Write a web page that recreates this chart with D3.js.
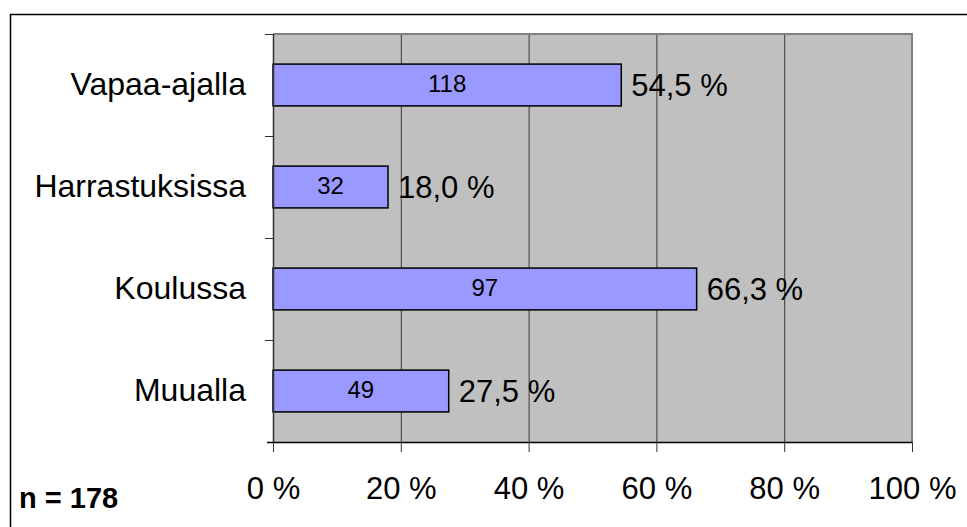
<!DOCTYPE html>
<html>
<head>
    <meta charset="utf-8">
    <title>Missä - n = 178</title>
    <script src="https://d3js.org/d3.v7.min.js"></script>
    <style>
        body { margin: 0; background: #fff; }
        text { font-family: "Liberation Sans", Arial, sans-serif; fill: #000; }
    </style>
</head>
<body>
    <div id="chart"></div>
    <script>
        // arvot luettu kuvasta
        const categories = ["Vapaa-ajalla", "Harrastuksissa", "Koulussa", "Muualla"];
        const percents = [54.5, 18.0, 66.3, 27.5];
        const counts = [118, 32, 97, 49];
        const xTicks = [0, 20, 40, 60, 80, 100];
        const nTotal = 178;

        const width = 967;
        const height = 527;
        const plot = { left: 273, right: 912, top: 34, bottom: 442 };

        const svg = d3.select("#chart")
            .append("svg")
            .attr("width", width)
            .attr("height", height);

        // ulkokehys (oikea ja alareuna kuvan ulkopuolella)
        svg.append("rect")
            .attr("x", 10.5).attr("y", 14.5)
            .attr("width", 1000).attr("height", 600)
            .attr("fill", "#fff")
            .attr("stroke", "#000")
            .attr("stroke-width", 1.5);

        const x = d3.scaleLinear()
            .domain([0, 100])
            .range([plot.left, plot.right]);

        const y = d3.scaleBand()
            .domain(categories)
            .range([plot.top, plot.bottom])
            .paddingInner(0.59)
            .paddingOuter(0.295);

        const fmt = v => v.toFixed(1).replace(".", ",") + " %";

        // piirtoalue
        svg.append("rect")
            .attr("x", plot.left).attr("y", plot.top)
            .attr("width", plot.right - plot.left)
            .attr("height", plot.bottom - plot.top)
            .attr("fill", "#c0c0c0");

        // ruudukko
        svg.append("g")
            .selectAll("line")
            .data(xTicks.slice(1, -1))
            .join("line")
            .attr("x1", d => x(d) + 0.5).attr("x2", d => x(d) + 0.5)
            .attr("y1", plot.top).attr("y2", plot.bottom)
            .attr("stroke", "#3a3a3a")
            .attr("stroke-width", 1);

        // reunat ylhäällä ja oikealla
        svg.append("path")
            .attr("d", `M${plot.left},${plot.top}H${plot.right}V${plot.bottom}`)
            .attr("fill", "none")
            .attr("stroke", "#808080")
            .attr("stroke-width", 2);

        const rows = categories.map((c, i) => ({ cat: c, pct: percents[i], n: counts[i] }));

        // palkit
        svg.append("g")
            .selectAll("rect")
            .data(rows)
            .join("rect")
            .attr("x", x(0))
            .attr("y", d => y(d.cat))
            .attr("width", d => x(d.pct) - x(0))
            .attr("height", y.bandwidth())
            .attr("fill", "#9999ff")
            .attr("stroke", "#000")
            .attr("stroke-width", 1.5);

        // lukumäärät palkin sisällä
        svg.append("g")
            .selectAll("text")
            .data(rows)
            .join("text")
            .attr("x", d => (x(0) + x(d.pct)) / 2)
            .attr("y", d => y(d.cat) + y.bandwidth() / 2)
            .attr("dy", "0.3em")
            .attr("text-anchor", "middle")
            .style("font-size", "24px")
            .text(d => d.n);

        // prosentit palkin perässä
        svg.append("g")
            .selectAll("text")
            .data(rows)
            .join("text")
            .attr("x", d => x(d.pct) + 10)
            .attr("y", d => y(d.cat) + y.bandwidth() / 2)
            .attr("dy", "0.35em")
            .style("font-size", "31px")
            .text(d => fmt(d.pct));

        // x-akseli
        const xAxis = svg.append("g")
            .attr("transform", `translate(0,${plot.bottom})`)
            .call(d3.axisBottom(x)
                .tickValues(xTicks)
                .tickFormat(d => d + " %")
                .tickSize(10)
                .tickSizeOuter(0)
                .tickPadding(25));
        xAxis.select(".domain")
            .attr("d", `M${plot.left - 6},0.5H${plot.right}`)
            .attr("stroke", "#000")
            .attr("stroke-width", 1.5);
        xAxis.selectAll(".tick line").attr("stroke", "#333");
        xAxis.selectAll("text")
            .style("font-size", "31px")
            .style("font-family", "'Liberation Sans', Arial, sans-serif");

        // y-akseli
        const yAxis = svg.append("g")
            .attr("transform", `translate(${plot.left},0)`)
            .call(d3.axisLeft(y).tickSize(0).tickPadding(27));
        yAxis.select(".domain")
            .attr("d", `M0.5,${plot.top}V${plot.bottom}`)
            .attr("stroke", "#333")
            .attr("stroke-width", 1.5);
        yAxis.selectAll("text")
            .style("font-size", "32px")
            .style("font-family", "'Liberation Sans', Arial, sans-serif");

        // y-akselin jakoviivat kategorioiden rajoilla
        const bounds = d3.range(categories.length).map(i => plot.top + i * y.step());
        svg.append("g")
            .selectAll("line")
            .data(bounds)
            .join("line")
            .attr("x1", plot.left - 8).attr("x2", plot.left)
            .attr("y1", d => d + 0.5).attr("y2", d => d + 0.5)
            .attr("stroke", "#333");

        svg.append("text")
            .attr("x", 19)
            .attr("y", 508)
            .style("font-size", "29px")
            .style("font-weight", "bold")
            .text("n = " + nTotal);
    </script>
</body>
</html>
